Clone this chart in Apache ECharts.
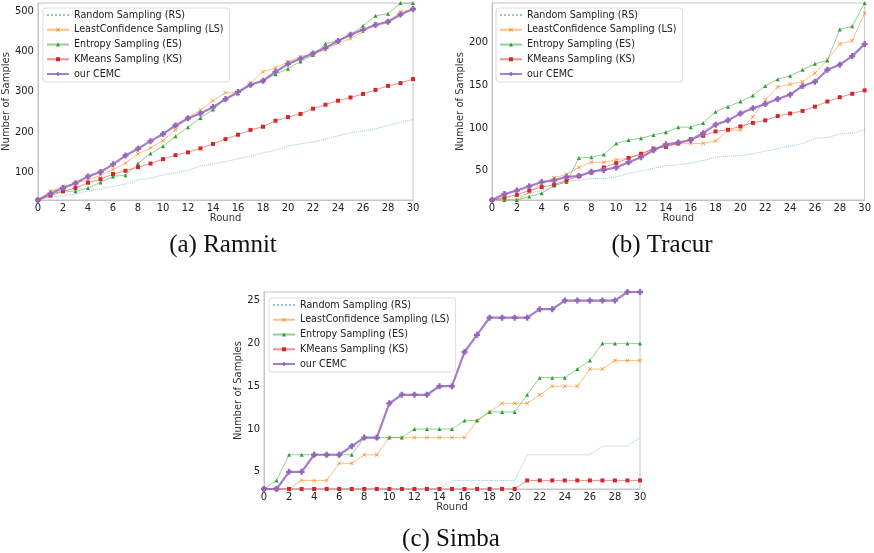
<!DOCTYPE html>
<html>
<head>
<meta charset="utf-8">
<script src="https://cdn.jsdelivr.net/npm/echarts@6/dist/echarts.min.js"></script>
<style>
  html, body { margin: 0; padding: 0; background: #fff; }
  #main { width: 874px; height: 553px; }
</style>
</head>
<body>
<div id="main"></div>
<script>
// rounds 0..30
const rounds = Array.from({ length: 31 }, (_, i) => i)
const seriesNames = ['Random Sampling (RS)', 'LeastConfidence Sampling (LS)', 'Entropy Sampling (ES)', 'KMeans Sampling (KS)', 'our CEMC']

// (a) Ramnit
const ramnitRS = [30, 38, 40, 45, 52, 58, 64, 70, 80, 85, 92, 98, 104, 115, 120, 126, 133, 139, 148, 154, 165, 170, 175, 182, 190, 198, 202, 208, 216, 224, 231]
const ramnitLS = [30, 52, 63, 72, 80, 92, 106, 122, 145, 160, 178, 205, 235, 255, 278, 298, 298, 322, 350, 360, 375, 388, 395, 405, 422, 433, 450, 470, 475, 500, 507]
const ramnitES = [30, 45, 52, 52, 60, 74, 89, 92, 121, 146, 164, 189, 212, 235, 256, 282, 296, 318, 328, 344, 358, 376, 392, 420, 428, 442, 465, 490, 495, 522, 522]
const ramnitKS = [30, 41, 52, 60, 73, 82, 95, 103, 112, 121, 132, 142, 149, 159, 170, 182, 193, 205, 213, 228, 237, 245, 258, 268, 278, 286, 295, 305, 315, 322, 332]
const ramnitCEMC = [30, 46, 60, 72, 89, 100, 119, 141, 158, 177, 195, 216, 234, 246, 262, 282, 300, 318, 328, 350, 370, 383, 396, 410, 427, 443, 455, 467, 475, 493, 507]
const ramnitTicks = [100, 200, 300, 400, 500]

// (b) Tracur
const tracurRS = [16, 18, 20, 24, 27, 32, 38, 39, 41, 41, 43, 47, 50, 53, 56, 57, 59, 62, 66, 67, 68, 70, 73, 76, 79, 82, 88, 89, 93, 94, 98]
const tracurLS = [16, 16, 16, 25, 35, 42, 46, 54, 60, 60, 63, 65, 69, 76, 79, 82, 82, 82, 85, 97, 98, 113, 133, 148, 151, 154, 164, 180, 198, 202, 234]
const tracurES = [16, 16, 16, 20, 24, 33, 37, 65, 66, 69, 82, 86, 88, 92, 95, 101, 101, 106, 119, 125, 131, 138, 149, 157, 161, 168, 175, 179, 215, 219, 246]
const tracurKS = [16, 19, 22, 27, 31, 34, 39, 44, 48, 54, 59, 65, 70, 76, 78, 82, 87, 91, 96, 98, 102, 106, 109, 114, 117, 120, 125, 131, 136, 140, 144]
const tracurCEMC = [16, 23, 27, 32, 37, 39, 43, 44, 49, 51, 54, 60, 66, 74, 81, 83, 86, 94, 104, 109, 117, 123, 128, 134, 139, 149, 154, 168, 174, 184, 198]
const tracurTicks = [50, 100, 150, 200]

// (c) Simba
const simbaRS = [3, 3, 3, 3, 3, 3, 3, 3, 3, 3, 3, 3, 3, 3, 3, 4, 4, 4, 4, 4, 4, 7, 7, 7, 7, 7, 7, 8, 8, 8, 9]
const simbaLS = [3, 3, 3, 4, 4, 4, 6, 6, 7, 7, 9, 9, 9, 9, 9, 9, 9, 11, 12, 13, 13, 13, 14, 15, 15, 15, 17, 17, 18, 18, 18]
const simbaES = [3, 4, 7, 7, 7, 7, 7, 7, 9, 9, 9, 9, 10, 10, 10, 10, 11, 11, 12, 12, 12, 14, 16, 16, 16, 17, 18, 20, 20, 20, 20]
const simbaKS = [3, 3, 3, 3, 3, 3, 3, 3, 3, 3, 3, 3, 3, 3, 3, 3, 3, 3, 3, 3, 3, 4, 4, 4, 4, 4, 4, 4, 4, 4, 4]
const simbaCEMC = [3, 3, 5, 5, 7, 7, 7, 8, 9, 9, 13, 14, 14, 14, 15, 15, 19, 21, 23, 23, 23, 23, 24, 24, 25, 25, 25, 25, 25, 26, 26]
const simbaTicks = [5, 10, 15, 20, 25]

const xMarker = 'path://M1,0L5,4L9,0L10,1L6,5L10,9L9,10L5,6L1,10L0,9L4,5L0,1Z'
const plusMarker = 'path://M3,0H7V3H10V7H7V10H3V7H0V3H3Z'

const styles = [
  { color: '#1f77b4', symbol: 'rect', size: 0, width: 1, type: 'dotted', opacity: 0.45, markOpacity: 0 },
  { color: '#ff7f0e', symbol: xMarker, size: 4, width: 1, type: 'solid', opacity: 0.5, markOpacity: 1 },
  { color: '#2ca02c', symbol: 'triangle', size: 4, width: 1, type: 'solid', opacity: 0.5, markOpacity: 1 },
  { color: '#d62728', symbol: 'rect', size: 4, width: 1, type: 'solid', opacity: 0.5, markOpacity: 1 },
  { color: '#9467bd', symbol: plusMarker, size: 6, width: 2.2, type: 'solid', opacity: 0.85, markOpacity: 1 },
]

const panels = [
  { data: [ramnitRS, ramnitLS, ramnitES, ramnitKS, ramnitCEMC], min: 30, max: 522, ticks: ramnitTicks,
    grid: { left: 37, top: 3, width: 376, height: 197 }, nameGap: 26, legend: { left: 43, top: 8 },
    caption: '(a) Ramnit', cx: 218, cy: 228 },
  { data: [tracurRS, tracurLS, tracurES, tracurKS, tracurCEMC], min: 16, max: 246, ticks: tracurTicks,
    grid: { left: 492, top: 3, width: 376, height: 197 }, nameGap: 27, legend: { left: 496, top: 8 },
    caption: '(b) Tracur', cx: 657, cy: 228 },
  { data: [simbaRS, simbaLS, simbaES, simbaKS, simbaCEMC], min: 3, max: 26, ticks: simbaTicks,
    grid: { left: 264, top: 292, width: 376, height: 197 }, nameGap: 21, legend: { left: 269, top: 298 },
    caption: '(c) Simba', cx: 446, cy: 522 },
]

const grid = [], xAxis = [], yAxis = [], series = [], legend = [], title = []
const axisGray = '#c4c4c4'

panels.forEach((p, gi) => {
  grid.push({ ...p.grid, show: true, borderColor: axisGray, borderWidth: 1, backgroundColor: '#fff' })
  xAxis.push({
    gridIndex: gi, type: 'value', min: 0, max: 30, interval: 2,
    name: 'Round', nameLocation: 'middle', nameGap: 12,
    nameTextStyle: { fontFamily: 'DejaVu Sans', fontSize: 10, color: '#333' },
    axisLine: { lineStyle: { color: axisGray } },
    axisTick: { show: false },
    axisLabel: { fontFamily: 'DejaVu Sans', fontSize: 10, color: '#222', margin: 3 },
    splitLine: { show: false },
  })
  yAxis.push({
    gridIndex: gi, type: 'value', min: p.min, max: p.max,
    name: 'Number of Samples', nameLocation: 'middle', nameGap: p.nameGap,
    nameTextStyle: { fontFamily: 'DejaVu Sans', fontSize: 10, color: '#333' },
    axisLine: { show: true, lineStyle: { color: axisGray } },
    axisTick: { show: false },
    axisLabel: { fontFamily: 'DejaVu Sans', fontSize: 10, color: '#222', margin: 4, customValues: p.ticks },
    splitLine: { show: false },
  })
  p.data.forEach((arr, si) => {
    const s = styles[si]
    series.push({
      name: seriesNames[si], type: 'line', xAxisIndex: gi, yAxisIndex: gi,
      data: rounds.map((r, i) => [r, arr[i]]),
      symbol: s.symbol, symbolSize: s.size, showSymbol: s.size > 0,
      lineStyle: { color: s.color, width: s.width, type: s.type, opacity: s.opacity },
      itemStyle: { color: s.color, opacity: s.markOpacity },
      animation: false, z: 2 + si,
    })
  })
  legend.push({
    ...p.legend, orient: 'vertical', data: seriesNames,
    itemWidth: 22, itemHeight: 5, itemGap: 2.75, padding: [1, 6, 2, 3],
    textStyle: { fontFamily: 'DejaVu Sans', fontSize: 9.6, color: '#222', lineHeight: 12 },
    borderColor: '#dcdcdc', borderWidth: 1, borderRadius: 3,
    backgroundColor: 'rgba(255,255,255,0.8)',
  })
  title.push({
    text: p.caption, left: p.cx, top: p.cy, textAlign: 'center',
    textStyle: { fontFamily: 'Liberation Serif', fontSize: 25, fontWeight: 'normal', color: '#111' },
  })
})

const myChart = echarts.init(document.getElementById('main'))
myChart.setOption({ animation: false, title, grid, xAxis, yAxis, legend, series })
</script>
</body>
</html>
